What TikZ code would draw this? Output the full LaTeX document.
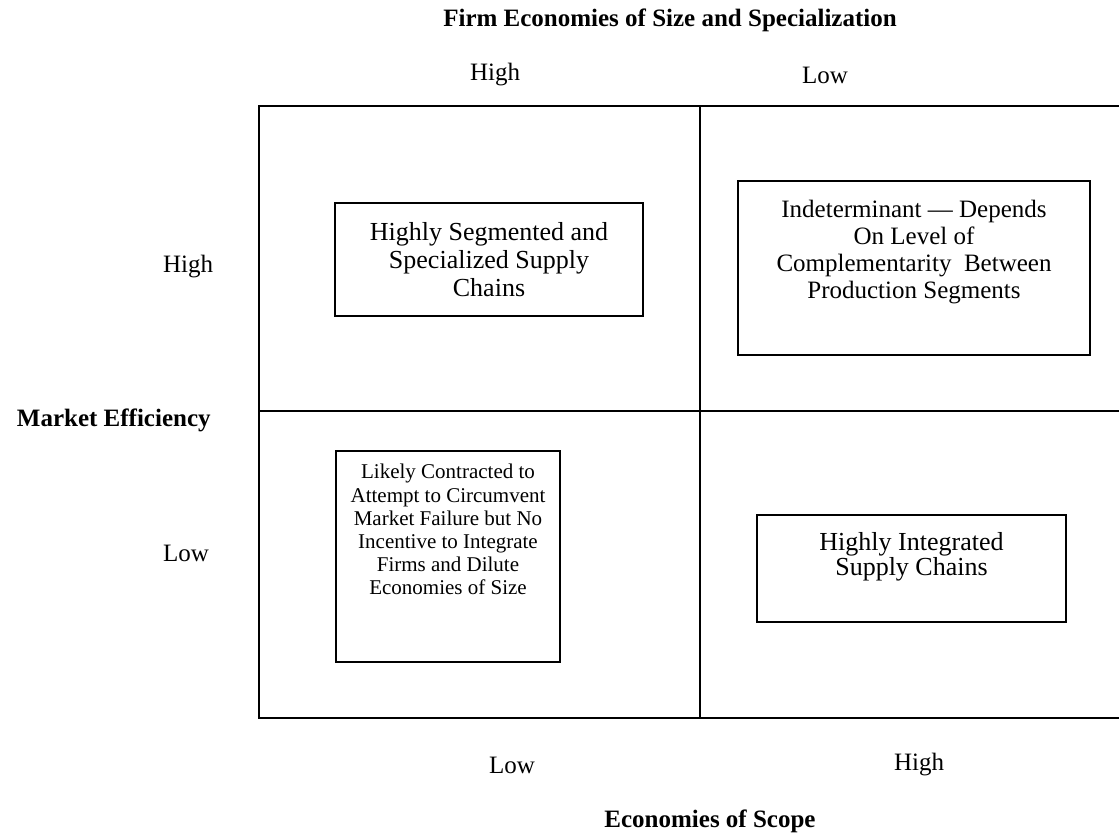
\documentclass[tikz,border=0pt]{standalone}
\usepackage{fontspec}
\setmainfont{Liberation Serif}
\usepackage{tikz}
\usetikzlibrary{positioning}

\tikzset{
  cell/.style={draw, line width=1pt, inner sep=0pt},
  txt/.style={align=center, inner sep=0pt, font=\fontsize{12.5}{12}\selectfont},
  lbl/.style={inner sep=0pt, font=\fontsize{12.5}{14}\selectfont},
  head/.style={inner sep=0pt, font=\fontsize{12.5}{14}\selectfont\bfseries}
}

\begin{document}
\begin{tikzpicture}[x=0.5pt,y=-0.5pt]
	\useasboundingbox (0,0) rectangle (1119,833);
	% grid
	\coordinate (nw) at (259,106);
	\coordinate (ne) at (1119,106);
	\coordinate (w) at (259,411);
	\coordinate (e) at (1119,411);
	\coordinate (sw) at (259,718);
	\coordinate (se) at (1119,718);
	\coordinate (n) at (700,106);
	\coordinate (s) at (700,718);
	\draw[line width=1pt] (ne) -- (nw) -- (sw) -- (se);
	\draw[line width=1pt] (w) -- (e);
	\draw[line width=1pt] (n) -- (s);
	% boxes
	\node[cell, minimum width=154pt, minimum height=56.5pt] (tl) at (489,259.5) {};
	\node[cell, minimum width=176pt, minimum height=87pt] (tr) at (914,268) {};
	\node[cell, minimum width=112pt, minimum height=105.5pt] (bl) at (448,556.5) {};
	\node[cell, minimum width=154.5pt, minimum height=53.5pt] (br) at (911.5,568.5) {};
	\node[txt, font=\fontsize{13}{14}\selectfont] (tltext) at (tl) {Highly Segmented and\\Specialized Supply\\Chains};
	\node[txt, font=\fontsize{12.5}{13.5}\selectfont, below=10pt of tr.north] (trtext) {Indeterminant --- Depends\\On Level of\\Complementarity\ \ Between\\Production Segments};
	\node[txt, font=\fontsize{10.5}{11.6}\selectfont, below=7pt of bl.north] (bltext) {Likely Contracted to\\Attempt to Circumvent\\Market Failure but No\\Incentive to Integrate\\Firms and Dilute\\Economies of Size};
	\node[txt, font=\fontsize{13}{12.5}\selectfont, below=9pt of br.north] (brtext) {Highly Integrated\\Supply Chains};
	% axis labels
	\node[head] (firm) at (670,20) {Firm Economies of Size and Specialization};
	\node[lbl] (tophigh) at (495,75) {High};
	\node[lbl] (toplow) at (825,75) {Low};
	\node[lbl] (lefthigh) at (188,267) {High};
	\node[head, anchor=east] (market) at (211,420) {Market Efficiency};
	\node[lbl] (leftlow) at (186,553) {Low};
	\node[lbl] (botlow) at (512,765) {Low};
	\node[lbl] (bothigh) at (919,765) {High};
	\node[head] (scope) at (710,821) {Economies of Scope};
\end{tikzpicture}
\end{document}
